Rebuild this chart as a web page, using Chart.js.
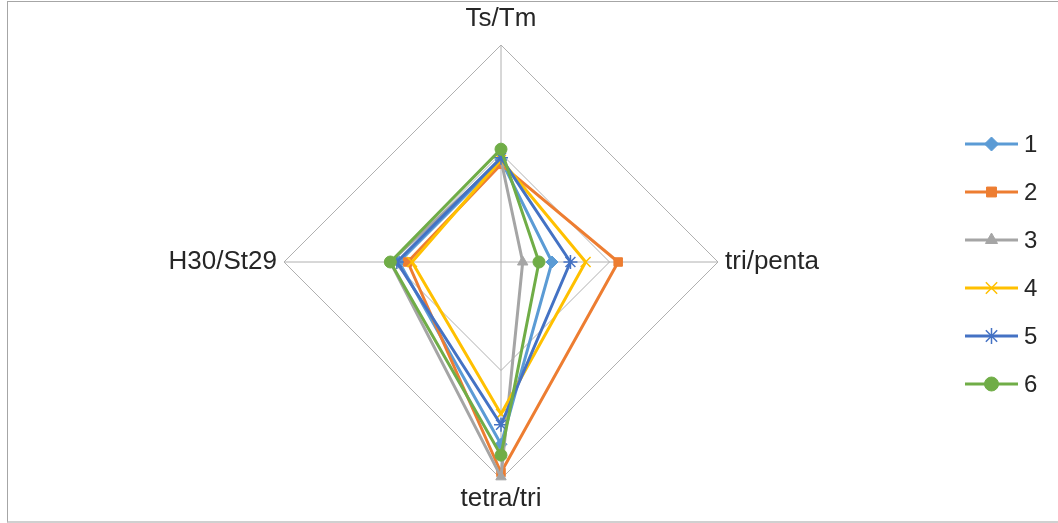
<!DOCTYPE html>
<html>
<head>
<meta charset="utf-8">
<script src="https://cdn.jsdelivr.net/npm/chart.js@4/dist/chart.umd.min.js"></script>
<style>
  html, body { margin: 0; padding: 0; background: #fff; }
  #wrap { position: relative; width: 1058px; height: 523px; overflow: hidden; }
  #frame { position: absolute; left: 7px; top: 1px; width: 1060px; height: 519px;
           border-left: 1px solid #a6a6a6; border-top: 1px solid #a6a6a6; border-bottom: 2px solid #d0d0d0; }
  canvas { position: absolute; left: 0; top: 0; }
</style>
</head>
<body>
<div id="wrap">
  <div id="frame"></div>
  <canvas id="c" width="1058" height="523"></canvas>
</div>
<script>
// Axes of the radar, clockwise from the top
const axes = ['Ts/Tm', 'tri/penta', 'tetra/tri', 'H30/St29'];

// Ratio values per sample, in axis order
const s1 = [0.47, 0.235, 0.84, 0.47];
const s2 = [0.45, 0.54, 0.97, 0.43];
const s3 = [0.47, 0.10, 0.99, 0.51];
const s4 = [0.47, 0.39, 0.70, 0.41];
const s5 = [0.48, 0.32, 0.75, 0.48];
const s6 = [0.52, 0.175, 0.89, 0.51];

const seriesNames = ['1', '2', '3', '4', '5', '6'];
const seriesData = [s1, s2, s3, s4, s5, s6];
const colors = ['#5B9BD5', '#ED7D31', '#A5A5A5', '#FFC000', '#4472C4', '#70AD47'];
const markers = ['rectRot', 'rect', 'triangle', 'crossRot', 'star', 'circle'];
const markerRadius = [6, 6, 6, 7, 7, 6];

const LABEL_FONT = "'Liberation Sans', Arial, sans-serif";

// Point label gap from the outer ring: top, right, bottom, left
const labelGap = [11, 7, 5, 7];

const datasets = seriesData.map((d, i) => ({
  label: seriesNames[i],
  data: d,
  borderColor: colors[i],
  backgroundColor: colors[i],
  pointBackgroundColor: colors[i],
  pointBorderColor: colors[i],
  pointStyle: markers[i],
  pointRadius: markerRadius[i],
  pointBorderWidth: (markers[i] === 'crossRot' || markers[i] === 'star') ? 1.5 : 1,
  borderWidth: 3,
  fill: false,
  tension: 0,
  order: seriesData.length - i
}));

// Legend on the right: a short line with the series marker, then the name
const sideLegend = {
  id: 'sideLegend',
  afterDraw(chart) {
    const ctx = chart.ctx;
    const x0 = 965, x1 = 1018, top = 144, gap = 48;
    chart.data.datasets.forEach((ds, i) => {
      const y = top + i * gap;
      ctx.save();
      ctx.strokeStyle = ds.borderColor;
      ctx.lineWidth = 3;
      ctx.beginPath();
      ctx.moveTo(x0, y);
      ctx.lineTo(x1, y);
      ctx.stroke();
      ctx.fillStyle = ds.pointBackgroundColor;
      ctx.strokeStyle = ds.pointBorderColor;
      ctx.lineWidth = ds.pointBorderWidth;
      Chart.helpers.drawPoint(ctx, {
        pointStyle: ds.pointStyle,
        radius: ds.pointRadius + 1,
        rotation: 0,
        borderWidth: ds.pointBorderWidth
      }, (x0 + x1) / 2, y);
      ctx.fillStyle = '#262626';
      ctx.font = '24px ' + LABEL_FONT;
      ctx.textBaseline = 'middle';
      ctx.textAlign = 'left';
      ctx.fillText(ds.label, 1024, y + 1);
      ctx.restore();
    });
  }
};

new Chart(document.getElementById('c'), {
  type: 'radar',
  data: { labels: axes, datasets },
  options: {
    responsive: false,
    animation: false,
    events: [],
    layout: { padding: { left: 100, right: 156, top: 1, bottom: 6 } },
    plugins: { legend: { display: false }, tooltip: { enabled: false } },
    elements: { line: { borderJoinStyle: 'round' } },
    scales: {
      r: {
        min: 0,
        max: 1,
        ticks: { display: false, stepSize: 0.5 },
        grid: { color: '#b0b0b0', lineWidth: 1, circular: false },
        angleLines: { color: '#b0b0b0', lineWidth: 1 },
        pointLabels: {
          color: '#262626',
          font: { family: LABEL_FONT, size: 26, lineHeight: '30px' },
          padding: (ctx) => labelGap[ctx.index]
        }
      }
    }
  },
  plugins: [sideLegend]
});
</script>
</body>
</html>
